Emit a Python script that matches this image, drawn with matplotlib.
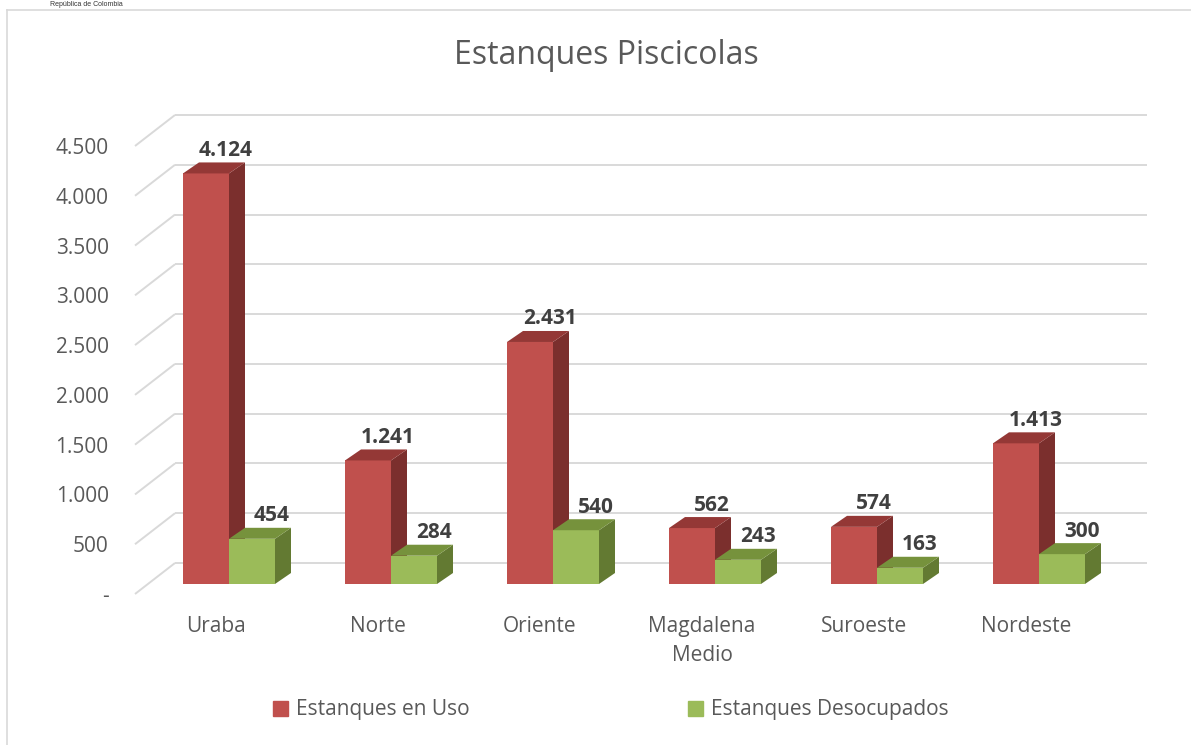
import matplotlib.pyplot as plt
from matplotlib.patches import Polygon, Patch
from matplotlib.lines import Line2D
import numpy as np

plt.rcParams['font.family'] = ['Open Sans', 'DejaVu Sans']

regions = ['Uraba', 'Norte', 'Oriente', 'Magdalena\nMedio', 'Suroeste', 'Nordeste']
en_uso = [4124, 1241, 2431, 562, 574, 1413]
desocupados = [454, 284, 540, 243, 163, 300]
y_ticks = [0, 500, 1000, 1500, 2000, 2500, 3000, 3500, 4000, 4500]
y_tick_labels = ['-', '500', '1.000', '1.500', '2.000', '2.500', '3.000',
                 '3.500', '4.000', '4.500']
value_labels_uso = ['4.124', '1.241', '2.431', '562', '574', '1.413']
value_labels_des = ['454', '284', '540', '243', '163', '300']

# colours: front, side, top
red = ('#C0504D', '#7B2F2D', '#943836')
green = ('#9BBB59', '#637A32', '#76923C')
grid_col = '#D9D9D9'
text_col = '#595959'

W, H = 1191, 745
fig = plt.figure(figsize=(W / 100, H / 100), dpi=100)
# axes = front plane of the 3d box (pixels 135..1107 x 146..594)
ax = fig.add_axes([135 / W, 1 - 594 / H, 972 / W, 448 / H])
ax.set_xlim(-0.5, len(regions) - 0.5)
ax.set_ylim(0, 4500)

px_x = 972 / len(regions)      # pixels per category
px_y = 448 / 4500              # pixels per unit


def off(dx, dy):
    # pixel offset (right, up) -> data offset
    return dx / px_x, dy / px_y


wall_dx, wall_dy = off(40, 31)   # back wall
bar_dx, bar_dy = off(13, 10)     # front of the bars
dep_dx, dep_dy = off(16, 11)     # depth of each bar
bar_w = 46 / px_x

# gridlines: side diagonal + back wall
for v in y_ticks:
    ax.plot([-0.5, -0.5 + wall_dx], [v, v + wall_dy], color=grid_col,
            lw=1.4, clip_on=False, zorder=1, solid_capstyle='butt')
    ax.plot([-0.5 + wall_dx, len(regions) - 0.5 + wall_dx],
            [v + wall_dy, v + wall_dy], color=grid_col, lw=1.4,
            clip_on=False, zorder=1, solid_capstyle='butt')

x = np.arange(len(regions))


def draw_series(lefts, values, cols, labels, z):
    ax.bar(lefts, values, width=bar_w, bottom=bar_dy, align='edge',
           color=cols[0], zorder=z, clip_on=False)
    for x0, v, lab in zip(lefts, values, labels):
        y0 = bar_dy
        top = [(x0, y0 + v), (x0 + bar_w, y0 + v),
               (x0 + bar_w + dep_dx, y0 + v + dep_dy), (x0 + dep_dx, y0 + v + dep_dy)]
        side = [(x0 + bar_w, y0), (x0 + bar_w + dep_dx, y0 + dep_dy),
                (x0 + bar_w + dep_dx, y0 + v + dep_dy), (x0 + bar_w, y0 + v)]
        ax.add_patch(Polygon(side, closed=True, color=cols[1], lw=0,
                             zorder=z, clip_on=False))
        ax.add_patch(Polygon(top, closed=True, color=cols[2], lw=0,
                             zorder=z, clip_on=False))
        ax.annotate(lab, (x0 + bar_w / 2, y0 + v), xytext=(20, 23),
                    textcoords='offset pixels', ha='center', va='center',
                    fontsize=15, fontweight='bold', color='#404040',
                    zorder=10, annotation_clip=False)


draw_series(x - bar_w + bar_dx, en_uso, red, value_labels_uso, 3)
draw_series(x + bar_dx, desocupados, green, value_labels_des, 4)

ax.set_xticks(x)
ax.set_xticklabels(regions, fontsize=15, color=text_col, linespacing=1.5)
ax.set_yticks(y_ticks)
ax.set_yticklabels(y_tick_labels, fontsize=15, color=text_col)
ax.tick_params(axis='x', length=0, pad=16)
ax.tick_params(axis='y', length=0, pad=19)
for s in ax.spines.values():
    s.set_visible(False)
ax.patch.set_alpha(0)

fig.text(606 / W, 1 - 55 / H, 'Estanques Piscicolas', ha='center',
         va='center', fontsize=23, color=text_col)

handles = [Patch(color=red[0], label='Estanques en Uso'),
           Patch(color=green[0], label='Estanques Desocupados')]
fig.legend(handles=handles, loc='center', bbox_to_anchor=(611 / W, 1 - 710 / H),
           ncol=2, frameon=False, fontsize=15, handlelength=0.7,
           handleheight=0.7, handletextpad=0.4, columnspacing=10.5,
           labelcolor=text_col)

# chart frame and header
fig.add_artist(Line2D([7 / W, 7 / W], [0, 1 - 10 / H], color=grid_col, lw=1.2))
fig.add_artist(Line2D([7 / W, 1], [1 - 10 / H, 1 - 10 / H], color=grid_col, lw=1.2))
fig.text(50 / W, 1 - 4 / H, 'República de Colombia', ha='left', va='center',
         fontsize=5, color='#333333', family=['Liberation Sans', 'DejaVu Sans'])

fig.savefig('out.png', dpi=100)
